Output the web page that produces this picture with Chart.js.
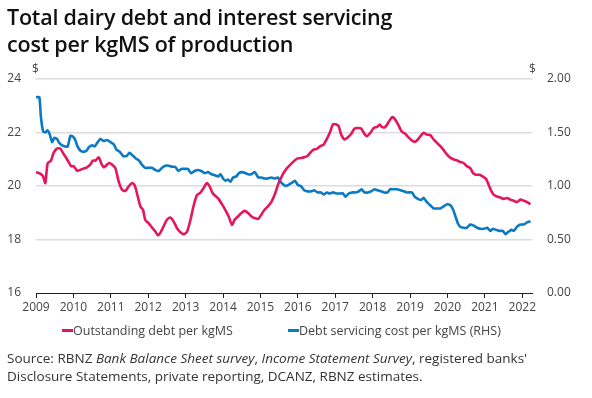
<!DOCTYPE html>
<html>
<head>
<meta charset="utf-8">
<script src="https://cdn.jsdelivr.net/npm/chart.js@4/dist/chart.umd.min.js"></script>
<style>
  html, body { margin: 0; padding: 0; background: #fff; }
  body { width: 592px; height: 398px; position: relative; overflow: hidden; font-family: "Open Sans", sans-serif; }
  #c { position: absolute; left: 0; top: 0; }
  .title { position: absolute; left: 7px; top: 3px; font-size: 21.5px; font-weight: 600; line-height: 27px; color: #111; letter-spacing: -0.2px; }
  .dollar { position: absolute; top: 60px; font-size: 12px; color: #444; }
  .legend { position: absolute; top: 322px; font-size: 12.5px; color: #444; white-space: nowrap; }
  .legend span.m { display: inline-block; width: 11px; height: 3px; vertical-align: middle; margin-right: 0px; position: relative; top: -1px; }
  .source { position: absolute; left: 7px; top: 349px; font-size: 13.5px; line-height: 18px; color: #333; white-space: nowrap; }
</style>
</head>
<body>
<canvas id="c" width="592" height="398"></canvas>
<div class="title">Total dairy debt and interest servicing<br>cost per kgMS of production</div>
<div class="dollar" style="left:32px">$</div>
<div class="dollar" style="left:529px">$</div>
<div class="legend" style="left:62px"><span class="m" style="background:#e5175c"></span>Outstanding debt per kgMS</div>
<div class="legend" style="left:288px"><span class="m" style="background:#0a7ac4"></span>Debt servicing cost per kgMS (RHS)</div>
<div class="source">Source: RBNZ <i>Bank Balance Sheet survey</i>, <i>Income Statement Survey</i>, registered banks'<br>Disclosure Statements, private reporting, DCANZ, RBNZ estimates.</div>
<script>
const yearTicks = [2009,2010,2011,2012,2013,2014,2015,2016,2017,2018,2019,2020,2021,2022];
const leftTicks = [16,18,20,22,24];
const rightTicks = [0,0.5,1,1.5,2];

const debtYears = [
2009.00,2009.12,2009.19,2009.25,2009.31,2009.40,2009.47,2009.56,2009.65,2009.72,2009.78,2009.87,2009.94,
2010.01,2010.10,2010.19,2010.27,2010.36,2010.45,2010.52,2010.59,2010.68,2010.74,2010.81,2010.88,2010.96,
2011.03,2011.12,2011.21,2011.30,2011.39,2011.48,2011.57,2011.64,2011.72,2011.79,2011.86,2011.92,
2012.01,2012.10,2012.19,2012.26,2012.32,2012.41,2012.50,2012.59,2012.68,2012.77,2012.86,2012.95,
2013.04,2013.13,2013.21,2013.30,2013.39,2013.48,2013.57,2013.64,2013.72,2013.81,2013.88,2013.97,
2014.06,2014.15,2014.24,2014.31,2014.40,2014.49,2014.58,2014.67,2014.76,2014.85,2014.94,
2015.02,2015.11,2015.20,2015.29,2015.38,2015.47,2015.53,2015.62,2015.71,2015.80,2015.89,2015.98,
2016.07,2016.16,2016.25,2016.33,2016.42,2016.51,2016.60,2016.69,2016.78,2016.87,2016.94,
2017.03,2017.09,2017.16,2017.25,2017.34,2017.43,2017.51,2017.60,2017.69,2017.78,2017.85,2017.94,
2018.03,2018.12,2018.19,2018.25,2018.34,2018.43,2018.52,2018.59,2018.68,2018.77,2018.87,2018.96,
2019.05,2019.12,2019.21,2019.30,2019.36,2019.45,2019.54,2019.63,2019.72,2019.81,2019.90,2019.99,
2020.08,2020.17,2020.26,2020.34,2020.43,2020.52,2020.61,2020.68,2020.76,2020.85,2020.94,
2021.03,2021.10,2021.17,2021.24,2021.32,2021.41,2021.50,2021.59,2021.68,2021.77,2021.86,2021.95,
2022.04,2022.13,2022.22];
const debtValues = [
20.52,20.45,20.36,20.11,20.84,20.95,21.24,21.40,21.40,21.24,21.11,20.90,20.74,
20.74,20.57,20.61,20.65,20.70,20.80,20.95,20.95,21.07,20.86,20.70,20.77,20.86,
20.80,20.67,20.17,19.86,19.82,19.99,20.11,20.02,19.61,19.24,19.11,18.74,
18.61,18.45,18.30,18.16,18.24,18.49,18.74,18.82,18.67,18.42,18.27,18.20,
18.30,18.74,19.24,19.65,19.74,19.92,20.11,19.99,19.74,19.61,19.52,19.32,
19.11,18.86,18.55,18.74,18.86,18.99,19.07,18.99,18.86,18.80,18.77,
18.92,19.11,19.24,19.40,19.67,20.05,20.24,20.49,20.67,20.80,20.92,21.02,
21.05,21.07,21.11,21.24,21.36,21.39,21.49,21.55,21.77,22.05,22.30,
22.30,22.24,21.92,21.74,21.82,21.95,22.14,22.17,22.15,21.95,21.86,21.99,
22.17,22.21,22.30,22.20,22.21,22.40,22.57,22.51,22.30,22.05,21.95,21.82,
21.70,21.65,21.74,21.90,21.99,21.92,21.90,21.74,21.61,21.49,21.34,21.17,
21.05,20.99,20.95,20.90,20.86,20.74,20.67,20.49,20.42,20.42,20.36,
20.27,20.05,19.82,19.67,19.61,19.57,19.52,19.55,19.49,19.45,19.40,19.49,
19.45,19.40,19.32];

const costYears = [
2009.00,2009.09,2009.13,2009.19,2009.25,2009.31,2009.37,2009.43,2009.49,2009.56,2009.63,2009.70,2009.78,2009.85,2009.92,2009.99,
2010.05,2010.11,2010.19,2010.27,2010.35,2010.41,2010.50,2010.57,2010.63,2010.72,2010.81,2010.90,2010.99,
2011.08,2011.15,2011.24,2011.33,2011.42,2011.50,2011.57,2011.66,2011.75,2011.83,2011.92,
2012.01,2012.10,2012.19,2012.28,2012.37,2012.46,2012.55,2012.64,2012.72,2012.81,2012.89,2012.97,
2013.06,2013.15,2013.24,2013.33,2013.42,2013.51,2013.60,2013.69,2013.78,2013.87,2013.93,
2014.00,2014.06,2014.13,2014.20,2014.27,2014.36,2014.42,2014.51,2014.60,2014.67,2014.76,2014.85,2014.94,
2015.02,2015.11,2015.20,2015.29,2015.38,2015.47,2015.53,2015.67,2015.75,2015.84,2015.92,
2016.00,2016.08,2016.17,2016.26,2016.35,2016.44,2016.53,2016.62,2016.69,2016.78,2016.85,2016.94,
2017.03,2017.12,2017.21,2017.27,2017.36,2017.45,2017.54,2017.63,2017.70,2017.78,2017.87,2017.96,
2018.05,2018.13,2018.22,2018.31,2018.40,2018.47,2018.56,2018.65,2018.74,2018.83,2018.92,
2019.05,2019.12,2019.21,2019.30,2019.36,2019.45,2019.54,2019.63,2019.72,2019.81,2019.90,2019.99,
2020.08,2020.15,2020.21,2020.28,2020.34,2020.43,2020.52,2020.61,2020.70,2020.79,2020.88,2020.97,
2021.06,2021.15,2021.21,2021.30,2021.39,2021.48,2021.55,2021.62,2021.71,2021.77,2021.86,2021.95,
2022.04,2022.13,2022.22];
const costValues = [
1.83,1.83,1.65,1.51,1.50,1.52,1.48,1.41,1.45,1.44,1.40,1.38,1.37,1.37,1.47,1.46,
1.43,1.37,1.33,1.32,1.33,1.36,1.38,1.37,1.40,1.44,1.42,1.43,1.41,
1.39,1.34,1.32,1.28,1.28,1.31,1.29,1.26,1.24,1.20,1.17,
1.17,1.17,1.15,1.14,1.17,1.19,1.19,1.18,1.18,1.14,1.16,1.16,
1.16,1.12,1.14,1.15,1.14,1.12,1.13,1.11,1.10,1.09,1.11,
1.07,1.05,1.06,1.04,1.08,1.09,1.12,1.13,1.12,1.11,1.11,1.13,1.08,
1.08,1.07,1.07,1.08,1.07,1.08,1.04,1.00,1.01,1.03,1.05,
1.01,1.00,0.96,0.95,0.95,0.96,0.94,0.94,0.92,0.94,0.93,0.94,
0.93,0.93,0.93,0.90,0.93,0.94,0.94,0.95,0.97,0.94,0.94,0.95,
0.97,0.96,0.95,0.94,0.94,0.97,0.97,0.97,0.96,0.95,0.94,
0.94,0.90,0.88,0.87,0.89,0.85,0.82,0.79,0.79,0.79,0.81,0.83,
0.82,0.78,0.72,0.65,0.62,0.61,0.61,0.64,0.63,0.61,0.60,0.60,
0.61,0.58,0.60,0.59,0.58,0.58,0.55,0.57,0.59,0.58,0.62,0.64,
0.64,0.66,0.67];

const PINK = '#e5175c';
const BLUE = '#0a7ac4';
const tickFont = { family: '"Open Sans", sans-serif', size: 12 };

new Chart(document.getElementById('c'), {
  type: 'line',
  data: {
    datasets: [
      { label: 'Outstanding debt per kgMS', data: debtYears.map((x, i) => ({ x, y: debtValues[i] })),
        borderColor: PINK, borderWidth: 2.6, pointRadius: 0, tension: 0.25, yAxisID: 'y' },
      { label: 'Debt servicing cost per kgMS (RHS)', data: costYears.map((x, i) => ({ x, y: costValues[i] })),
        borderColor: BLUE, borderWidth: 2.6, pointRadius: 0, tension: 0.15, yAxisID: 'y2' }
    ]
  },
  options: {
    responsive: false,
    animation: false,
    devicePixelRatio: 1,
    layout: { padding: { top: 79, left: 0, right: 0, bottom: 0 }, autoPadding: false },
    plugins: { legend: { display: false }, tooltip: { enabled: false } },
    scales: {
      x: {
        type: 'linear', min: 2009, max: 2022.26,
        afterBuildTicks: s => { s.ticks = yearTicks.map(v => ({ value: v })); },
        afterFit: s => { s.height = 105; },
        ticks: { callback: v => String(v), color: '#444', font: tickFont, padding: 2, maxRotation: 0, autoSkip: false },
        grid: { drawOnChartArea: false, drawTicks: true, tickLength: 5, color: '#222', lineWidth: 1 },
        border: { display: true, color: '#222', width: 1 }
      },
      y: {
        position: 'left', min: 16, max: 24,
        afterBuildTicks: s => { s.ticks = leftTicks.map(v => ({ value: v })); },
        afterFit: s => { s.width = 36; },
        ticks: { color: '#444', font: tickFont, padding: 15, callback: v => String(v) },
        grid: { drawTicks: false, color: c => c.tick && c.tick.value === 16 ? 'rgba(0,0,0,0)' : '#dcdcdc', lineWidth: 1.5 },
        border: { display: false }
      },
      y2: {
        position: 'right', min: 0, max: 2,
        afterBuildTicks: s => { s.ticks = rightTicks.map(v => ({ value: v })); },
        afterFit: s => { s.width = 60; },
        ticks: { color: '#444', font: tickFont, padding: 15, callback: v => Number(v).toFixed(2) },
        grid: { drawOnChartArea: false, drawTicks: false },
        border: { display: false }
      }
    }
  }
});
</script>
</body>
</html>
